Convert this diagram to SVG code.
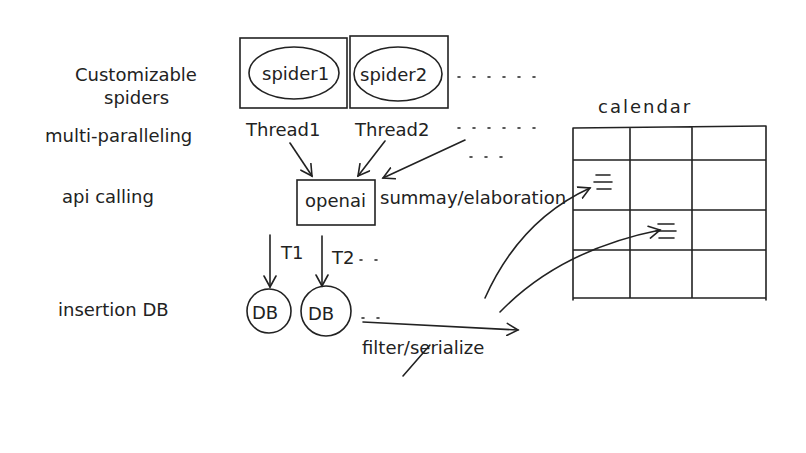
<svg xmlns="http://www.w3.org/2000/svg" width="806" height="453" viewBox="0 0 806 453">
<style>
.s{fill:none;stroke:#222;stroke-width:1.6;stroke-linecap:round}
.t{font-family:"DejaVu Sans",sans-serif;fill:#222;font-size:18px}
.d{fill:none;stroke:#222;stroke-width:1.6;stroke-dasharray:2 13;stroke-linecap:round}
</style>
<defs><marker id="a" markerWidth="14" markerHeight="14" refX="12" refY="7" orient="auto" markerUnits="userSpaceOnUse"><path d="M1,1 L12,7 L1,13" class="s"/></marker></defs>
<rect width="806" height="453" fill="#fff"/>
<g id="labels">
<text class="t" x="75" y="81">Customizable</text>
<text class="t" x="104" y="104">spiders</text>
<text class="t" x="45" y="142">multi-paralleling</text>
<text class="t" x="62" y="203">api calling</text>
<text class="t" x="58" y="316">insertion DB</text>
</g>
<g id="spider1"><rect class="s" x="240" y="38" width="107" height="70"/><ellipse class="s" cx="294" cy="73" rx="45" ry="26"/><text class="t" x="262" y="80">spider1</text><text class="t" x="246" y="136">Thread1</text></g>
<g id="spider2"><rect class="s" x="350" y="36" width="98" height="72"/><ellipse class="s" cx="398" cy="74" rx="44" ry="27"/><text class="t" x="360" y="81">spider2</text><text class="t" x="355" y="136">Thread2</text></g>
<g id="openai"><rect class="s" x="297" y="180" width="78" height="45"/><text class="t" x="305" y="207">openai</text><text class="t" x="380" y="204" font-size="16">summay/elaboration</text></g>
<g id="db1"><circle class="s" cx="269" cy="311" r="22"/><text class="t" x="252" y="319" font-size="22">DB</text></g>
<g id="db2"><circle class="s" cx="326" cy="311" r="25"/><text class="t" x="308" y="320" font-size="24">DB</text></g>
<g id="calendar">
<text class="t" x="598" y="113" font-size="24" letter-spacing="2">calendar</text>
<path class="s" d="M573,128 L766,126 M573,128 V300 M766,126 V300 M573,298 H766 M630,128 V298 M692,128 V298 M573,160 H766 M573,210 H766 M573,250 H766"/>
<path class="s" d="M596,175 H610 M594,182 H612 M597,189 H611 M658,224 H674 M656,231 H676 M659,238 H674"/>
</g>
<g id="connectors">
<path class="s" marker-end="url(#a)" d="M290,143 L312,176"/>
<path class="s" marker-end="url(#a)" d="M385,141 L358,176"/>
<path class="s" marker-end="url(#a)" d="M465,140 L383,178"/>
<path class="s" marker-end="url(#a)" d="M270,235 V287"/>
<path class="s" marker-end="url(#a)" d="M322,236 V286"/>
<text class="t" x="281" y="259" font-size="13">T1</text>
<text class="t" x="332" y="264" font-size="13">T2</text>
<path class="d" d="M360,260 H390 M362,318 H392 M458,77 L545,77 M458,128 L540,128 M470,157 L515,157"/>
<path class="s" marker-end="url(#a)" d="M363,322 L518,330"/>
<text class="t" x="362" y="354" font-size="20">filter/serialize</text>
<path class="s" d="M403,376 L430,345"/>
<path class="s" marker-end="url(#a)" d="M485,298 Q520,220 590,188"/>
<path class="s" marker-end="url(#a)" d="M500,312 Q560,250 660,230"/>
</g>
</svg>
